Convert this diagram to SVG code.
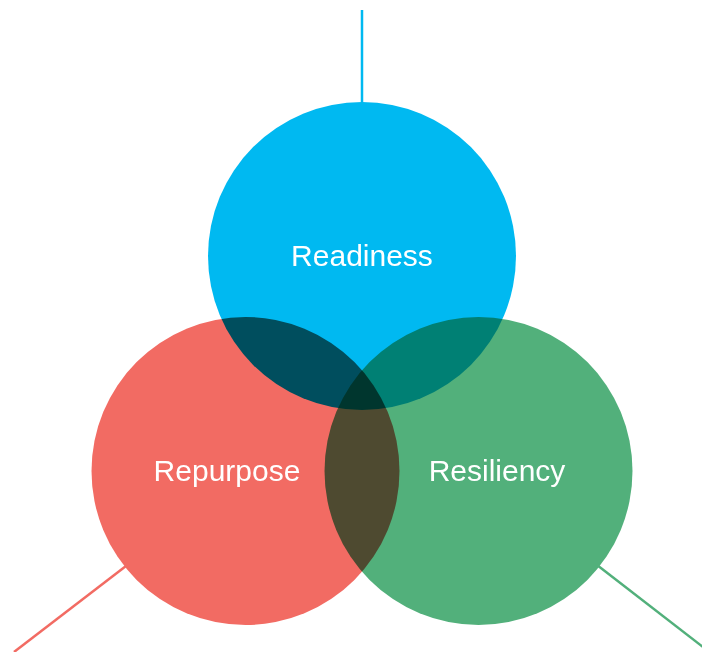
<svg xmlns="http://www.w3.org/2000/svg" width="702" height="652" viewBox="0 0 702 652">
<style>
.c{mix-blend-mode:multiply}
.t{font-family:"Liberation Sans",Arial,sans-serif;font-size:30px;fill:#ffffff;text-anchor:middle}
.l{stroke-width:2.5;fill:none}
</style>
<rect width="702" height="652" fill="#ffffff"/>
<g id="connectors">
<line class="l" x1="362" y1="10" x2="362" y2="104" stroke="#00b9f1"/>
<line class="l" x1="126" y1="566" x2="14" y2="652" stroke="#f26b63"/>
<line class="l" x1="597" y1="565" x2="703" y2="647" stroke="#52b07b"/>
</g>
<g style="isolation:isolate">
<g id="readiness"><circle class="c" cx="362" cy="256" r="154" fill="#00b9f1"/></g>
<g id="repurpose"><circle class="c" cx="245.5" cy="471" r="154" fill="#f26b63"/></g>
<g id="resiliency"><circle class="c" cx="478.5" cy="471" r="154" fill="#52b07b"/></g>
</g>
<text class="t" x="362" y="266">Readiness</text>
<text class="t" x="227" y="481">Repurpose</text>
<text class="t" x="497" y="481">Resiliency</text>
</svg>
